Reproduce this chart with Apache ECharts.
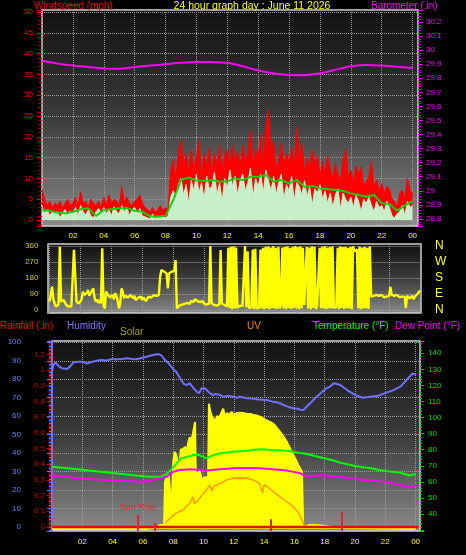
<!DOCTYPE html>
<html><head><meta charset="utf-8">
<script src="https://cdn.jsdelivr.net/npm/echarts@6/dist/echarts.min.js"></script>
<style>html,body{margin:0;padding:0;background:#000;}#c{width:466px;height:555px;}</style>
</head><body><div id="c"></div><script>
// ---------- DATA ----------
const hourLabels = ['02','04','06','08','10','12','14','16','18','20','22','00'];
const windStepH = 1/6;   // 10-minute samples
const windGust = [
 7.5,5,3.5,4.5,3,4,
 3.5,4.5,3,4,5,3.5,
 4,5.5,3.5,6.8,4,4.5,
 3,5,4,3.5,4.5,3,
 5.5,3.5,6,4,5,4.5,
 3.5,8,4.5,5.5,4,3.5,
 4.5,5,6,4,3,2.5,
 2,3,1.8,2.5,3.5,2.2,
 3,2.5,12,14.5,10,16,
 19,13,16,11,17,12,
 15,19,10,16,13,17.5,
 11,16,13,18,12,15.5,
 17,13,18,14,16.5,12.5,
 18,14,16,21.7,13,17,
 15,20.8,13,22.4,26.4,16,
 19,12,14.5,18.5,13,16,
 14,17.5,12,22.4,14,18.5,
 11,15,12.5,17,13,15.5,
 10.5,14,11,15.5,12,10,
 13.5,11,9.5,14.5,17,10,
 12,9,13,11,12.8,8.5,
 9,10.5,14,8,9.5,7,
 8.8,6.5,8,7.5,5,4.5,
 3,6.5,7.2,5,10,7,
 6.5];
const windSpeed = [
 3.5,1.5,2.5,1,2,1.5,
 2,0.5,1.8,2.5,1,2.2,
 1.5,3,1,3.5,2,1.2,
 2.5,1,0.5,2,2.8,1.5,
 3,1.5,2.5,1,3.2,2,
 1.5,3.5,2,3,1,2.5,
 3,1.5,2.8,1,0.8,0.5,
 0.3,1.5,0.2,1,0.5,1.2,
 0.5,1,5.5,7,5,8.5,
 10,6,8.5,4,9.5,7,
 11,6.5,9,5,10.5,7.5,
 8,11.5,6,9,4.5,10,
 7.5,12,8,10.5,6,9.5,
 11,7,9,12.5,5.5,10,
 8,11,6.5,12,9.5,7,
 10.5,6,9,11,5,8.5,
 7,10.5,4.5,9,8,6,
 9.5,5.5,8,3.5,7.5,6.5,
 8.5,5,7,4,6.5,3,
 6,7.5,2.5,6.5,5,4,
 5.5,3,6,4.5,2,5,
 4,5.5,3.5,2,4.5,3,
 3.5,2,4.5,3,1,0.5,
 1.5,2,3.5,1,4.5,3,
 3.5];
const windAvgStepH = 0.5;
const windAvg = [
 2.5,2.2, 1.8,1.6, 2.0,2.6, 2.8,1.0, 2.4,2.6, 2.8,2.9, 2.2,2.0, 0.9,0.8,
 1.0,4.8, 9.6,10.2, 9.5,9.4, 9.6,9.2, 9.3,10, 9.6,10.4, 10.4,10.8, 9.2,9.6,
 8.8,9.6, 8.0,8.2, 7.6,7.4, 7.2,7.0, 6.4,6.0, 5.6,6.0, 4.0,3.8, 2.2,3.5, 4.5];
const baroStepH = 1;
const barometer = [29.925,29.905,29.89,29.88,29.87,29.868,29.88,29.89,29.90,29.91,29.916,29.915,
 29.91,29.885,29.855,29.835,29.823,29.822,29.835,29.86,29.885,29.895,29.89,29.882,29.873];

const dirStepH = 1/12;   // 5-minute samples
const windDir = [
 47,84,131,60,37,19,28,30,356,47,40,56,
 50,28,35,19,25,22,20,338,338,47,40,37,
 37,60,103,85,75,95,112,80,94,100,122,70,
 47,60,40,55,37,347,25,9,103,90,80,70,
 75,85,60,94,80,50,9,40,122,100,66,80,
 75,70,60,85,75,66,80,55,66,70,60,75,
 56,70,66,50,60,75,66,70,60,84,75,80,
 84,84,187,225,220,216,210,206,122,206,210,216,
 216,220,281,9,19,25,19,30,28,35,28,40,
 47,35,50,56,45,60,56,50,40,45,37,50,
 37,45,30,28,35,360,37,30,28,35,25,28,
 30,338,37,30,28,35,20,350,10,355,5,358,
 8,352,12,19,25,18,22,15,360,15,330,10,
 20,15,340,5,345,10,18,12,340,8,350,5,
 355,10,358,5,352,12,360,8,350,6,356,10,
 30,352,8,355,5,358,10,350,6,356,12,360,
 8,354,5,358,10,350,28,20,356,8,352,5,
 358,12,355,6,20,25,350,10,356,8,360,5,
 352,10,355,8,358,12,20,15,350,5,358,12,
 354,6,356,10,350,8,355,5,358,330,335,340,
 10,356,5,352,8,355,10,350,6,358,75,70,
 80,70,85,75,80,70,85,78,72,80,75,85,
 80,130,85,75,80,70,85,78,72,80,75,85,
 75,10,80,70,65,75,80,60,75,70,90,95,
 110];
const dirLetters = {0:'N',90:'E',180:'S',270:'W',360:'N'};

const humidity = [[0,84],[0.1,88],[0.25,89],[0.45,87],[0.65,86],[1.0,85.5],[1.2,87],[1.4,89],[1.7,89.5],[2.07,89.5],
 [2.3,88.5],[2.5,89],[2.9,90],[3.28,90.4],[3.6,90.2],[3.9,90.8],[4.27,90.8],[4.6,91],[4.93,91.3],[5.3,91],[5.6,90.8],
 [5.9,91.5],[6.25,92.2],[6.6,93],[7.0,93.7],[7.2,93],[7.46,90.4],[7.7,88.6],[8.0,85.4],[8.2,84.1],[8.45,80.5],[8.7,77.4],
 [8.9,76.9],[9.1,77.8],[9.35,75],[9.55,73.3],[9.7,72.4],[9.88,75.1],[10.1,75],[10.2,74],[10.43,72.4],[10.6,71.5],[10.8,72],
 [11.1,71.5],[11.3,70.5],[11.6,71],[11.97,70.5],[12.2,70],[12.4,70.5],[12.85,69.7],[13.2,69.5],[13.6,69],[14.17,68.8],
 [14.5,68],[14.8,67.5],[15.05,67],[15.3,66],[15.6,65],[15.93,64.3],[16.2,64],[16.4,63.5],[16.6,63.3],[16.8,65.1],[17.1,67.5],
 [17.47,70.5],[17.8,73],[18.1,75],[18.35,76],[18.6,77.8],[19.0,77],[19.5,74],[20.0,71.5],[20.5,70],[21.0,70.5],[21.5,71],
 [22.0,72.5],[22.5,74],[23.0,76],[23.4,79.6],[23.8,83.2],[24,82.3]];
const temperature = [[0,69.4],[0.5,69],[1,68.5],[1.5,68],[2,67.5],[3,66.5],[4,65.5],[5,64.5],[6,63.5],[6.5,63.2],[7.13,63.2],
 [7.5,64.5],[8.0,69],[8.5,74.6],[9.0,75.8],[9.33,76.7],[9.7,76.7],[10.2,74.6],[10.6,76.5],[11.1,77.8],[11.97,78.8],[12.85,79.4],
 [13.73,80.3],[14.6,79.8],[15.5,79.4],[16.2,78.2],[16.8,77.3],[17.7,75.3],[18.5,73.5],[19.0,72],[20,69.9],[21,68.5],[22,66.8],
 [23,65.7],[23.6,64],[24,64.9]];
const dewPoint = [[0,63.8],[1,63],[2,62],[3,61.5],[4,61],[5,60.5],[6,60.1],[6.5,61],[7.57,63.2],[8.0,66.3],[8.45,67.4],[9.1,67.8],
 [10.2,67],[11.1,67.8],[12,68.4],[12.85,68.6],[13.7,68.4],[14.6,67.8],[15.5,67],[16.4,65.3],[16.8,63.2],[17.7,64.3],[18.5,63.5],
 [19,63.2],[20,61.8],[21,61],[22,60],[23,58],[23.6,56.6],[24,58]];
const solar = [[0,0],[6.15,0],[6.2,8],[7.0,10],[7.1,26],[7.4,26],[7.46,303],[7.55,335],[7.7,348],[7.8,239],[7.9,110],[8.0,432],
 [8.1,497],[8.25,464],[8.4,368],[8.5,510],[8.66,518],[8.8,529],[8.9,497],[9.0,561],[9.1,593],[9.12,350],[9.2,574],[9.3,613],
 [9.44,690],[9.5,292],[9.6,368],[9.66,250],[9.7,380],[9.8,355],[9.9,316],[10.0,329],[10.2,335],[10.3,303],[10.36,808],[10.45,755],
 [10.55,729],[10.65,711],[10.8,703],[10.9,729],[11.0,716],[11.15,742],[11.3,776],[11.4,729],[11.55,748],[11.7,735],[11.85,755],
 [12.0,735],[12.2,748],[12.4,750],[12.6,748],[12.85,744],[13.1,742],[13.3,735],[13.5,733],[13.8,722],[14.0,709],[14.17,701],
 [14.4,690],[14.6,679],[14.8,658],[15.05,626],[15.3,593],[15.5,561],[15.7,522],[15.93,475],[16.1,445],[16.26,411],[16.4,387],
 [16.5,368],[16.55,360],[16.58,13],[17.0,26],[17.5,26],[18.0,19],[18.5,13],[18.7,6],[18.75,0],[24,0]];
const uv = [[7.46,0.26],[7.9,0.66],[8.2,0.9],[8.66,1.1],[9.1,1.55],[9.3,1.95],[9.4,1.5],[9.66,1.74],[9.9,2.06],[10.2,2.39],
 [10.4,2.71],[10.55,2.3],[10.65,2.6],[11.1,2.82],[11.5,3.03],[12,3.14],[12.4,3.18],[12.85,3.14],[13.3,3.03],[13.7,2.82],
 [13.9,2.2],[14.0,2.72],[14.2,2.6],[14.6,2.28],[15.05,1.95],[15.5,1.63],[15.93,1.31],[16.3,0.88],[16.6,0.24],[16.7,0]];
const rainfall = [[0,0],[24.2,0]];
const sunEventHours = [5.66, 6.8, 14.43, 19.12];
const sunEventTops = [0.076, 0.025, 0.05, 0.097];
const sunEventNames = ['Sun Rise', '', '', ''];

// ---------- CHART ----------
const FONT = 'Liberation Sans';
const panelBg = {type:'linear',x:0,y:0,x2:0,y2:1,colorStops:[{offset:0,color:'#111111'},{offset:0.5,color:'#3c3c3c'},{offset:1,color:'#8a8a8a'}]};
const dotted = {show:true, lineStyle:{color:'#9c9c9c', type:'dotted', width:1}};
const hourFmt = v => (v >= 2 && v <= 24 && Math.abs(v/2 - Math.round(v/2)) < 1e-6) ? hourLabels[Math.round(v/2)-1] : '';
const pairs = (arr, step) => arr.map((v,i) => [i*step, v]);

const chart = echarts.init(document.getElementById('c'), null, {renderer:'canvas'});
chart.setOption({
  backgroundColor:'#000',
  animation:false,
  textStyle:{fontFamily:FONT},
  grid:[
    {left:42, top:10, width:376, height:216, show:true, backgroundColor:panelBg, borderColor:'#d0d0d0', borderWidth:1.5},
    {left:48, top:244, width:373, height:69, show:true, backgroundColor:panelBg, borderColor:'#d0d0d0', borderWidth:1.5},
    {left:49.5, top:246, width:370.5, height:64},
    {left:52, top:341, width:368, height:190, show:true, backgroundColor:panelBg, borderColor:'#d0d0d0', borderWidth:1.5}
  ],
  xAxis:[
    {gridIndex:0, type:'value', min:0, max:24.35, interval:2, axisLine:{show:false}, axisTick:{show:false},
     axisLabel:{color:'#ffff00', fontSize:8, margin:6, showMinLabel:false, showMaxLabel:false, formatter:hourFmt}, splitLine:dotted},
    {gridIndex:1, type:'value', min:-0.097, max:24.06, splitNumber:12, axisLine:{show:false}, axisTick:{show:false},
     axisLabel:{show:false}, splitLine:dotted},
    {gridIndex:2, type:'value', min:0, max:24, show:false},
    {gridIndex:3, type:'value', min:0, max:24.29, interval:2, axisLine:{show:false}, axisTick:{show:false},
     axisLabel:{color:'#ffff00', fontSize:8, margin:7, showMinLabel:false, showMaxLabel:false, formatter:hourFmt}, splitLine:dotted}
  ],
  yAxis:[
    {gridIndex:0, type:'value', position:'left', min:-1.44, max:50.48, splitNumber:10,
     axisLine:{show:false}, axisTick:{show:true, length:5, lineStyle:{color:'#ee0000'}},
     minorTick:{show:true, splitNumber:5, length:3, lineStyle:{color:'#cc0000'}},
     axisLabel:{color:'#ff0000', fontSize:8, margin:9, showMinLabel:false, showMaxLabel:false}, splitLine:dotted},
    {gridIndex:0, type:'value', position:'right', min:28.75, max:30.285, splitNumber:15,
     axisLine:{show:false}, axisTick:{show:true, length:5, lineStyle:{color:'#ee00ee'}},
     minorTick:{show:true, splitNumber:5, length:3, lineStyle:{color:'#cc00cc'}},
     axisLabel:{color:'#ff00ff', fontSize:8, margin:8, showMinLabel:false, showMaxLabel:false}, splitLine:{show:false}},
    {gridIndex:1, type:'value', min:0, max:1, show:false},
    {gridIndex:2, type:'value', position:'left', min:0, max:360, interval:90, axisLine:{show:false}, axisTick:{show:false},
     axisLabel:{color:'#c8c832', fontSize:8, margin:11}, splitLine:dotted},
    {gridIndex:2, type:'value', position:'right', min:0, max:360, interval:90, axisLine:{show:false}, axisTick:{show:false},
     axisLabel:{color:'#ffff00', fontSize:12, margin:15, formatter:v => dirLetters[v] || ''}, splitLine:{show:false}},
    {gridIndex:3, type:'value', position:'left', offset:22, min:-2.17, max:100.7, splitNumber:10,
     axisLine:{show:true, lineStyle:{color:'#7070ff', width:2}}, axisTick:{show:true, length:5, lineStyle:{color:'#7070ff'}},
     minorTick:{show:true, splitNumber:5, length:3, lineStyle:{color:'#7070ff'}},
     axisLabel:{color:'#7878ff', fontSize:8, margin:9, showMinLabel:false, showMaxLabel:false}, splitLine:dotted},
    {gridIndex:3, type:'value', position:'left', offset:2, min:-0.0255, max:1.1847, splitNumber:12,
     axisLine:{show:true, lineStyle:{color:'#e00000', width:1.5, type:'dotted'}}, axisTick:{show:true, length:3, lineStyle:{color:'#e00000'}},
     axisLabel:{color:'#d00000', fontSize:8, margin:5, showMinLabel:false, showMaxLabel:false}, splitLine:{show:false}},
    {gridIndex:3, type:'value', position:'right', min:29.42, max:147.65, splitNumber:12,
     axisLine:{show:false}, axisTick:{show:true, length:4, lineStyle:{color:'#00cc00'}},
     minorTick:{show:true, splitNumber:5, length:2, lineStyle:{color:'#00aa00'}},
     axisLabel:{color:'#00e000', fontSize:8, margin:8, showMinLabel:false, showMaxLabel:false, formatter:v => v >= 40 ? String(v) : ''},
     splitLine:{show:false}},
    {gridIndex:3, type:'value', min:-12.9, max:1212.6, show:false},
    {gridIndex:3, type:'value', min:-0.258, max:12.0, show:false}
  ],
  series:[
    {type:'line', xAxisIndex:0, yAxisIndex:0, data:pairs(windGust, windStepH), symbol:'none',
     lineStyle:{color:'#ff0000', width:1}, areaStyle:{color:'#ff0000', opacity:1}},
    {type:'line', xAxisIndex:0, yAxisIndex:0, data:pairs(windSpeed, windStepH), symbol:'none',
     lineStyle:{color:'#c8f0c8', width:1}, areaStyle:{color:'#c8f0c8', opacity:1}},
    {type:'line', xAxisIndex:0, yAxisIndex:0, data:pairs(windAvg, windAvgStepH), symbol:'none',
     lineStyle:{color:'#10d010', width:2}},
    {type:'line', xAxisIndex:0, yAxisIndex:1, data:pairs(barometer, baroStepH), symbol:'none', smooth:0.3,
     lineStyle:{color:'#ff00ff', width:2}},
    {type:'line', xAxisIndex:2, yAxisIndex:3, data:pairs(windDir, dirStepH), symbol:'none',
     lineStyle:{color:'#ffff00', width:2.4}},
    {type:'line', xAxisIndex:3, yAxisIndex:8, data:solar, symbol:'none',
     lineStyle:{color:'#ffff00', width:2}, areaStyle:{color:'#ffff00', opacity:1}},
    {type:'line', xAxisIndex:3, yAxisIndex:9, data:uv, symbol:'none',
     lineStyle:{color:'#ff9900', width:1.5}},
    {type:'line', xAxisIndex:3, yAxisIndex:5, data:humidity, symbol:'none',
     lineStyle:{color:'#7070ff', width:2}},
    {type:'line', xAxisIndex:3, yAxisIndex:7, data:temperature, symbol:'none',
     lineStyle:{color:'#00ff00', width:2}},
    {type:'line', xAxisIndex:3, yAxisIndex:7, data:dewPoint, symbol:'none',
     lineStyle:{color:'#ff00ff', width:2}},
    {type:'line', xAxisIndex:3, yAxisIndex:6, data:rainfall, symbol:'none',
     lineStyle:{color:'#ff0000', width:2.5},
     markLine:{silent:true, symbol:['none','none'], animation:false,
       lineStyle:{color:'#d82828', width:2, type:'solid'}, label:{show:false},
       data: sunEventHours.map((h,i) => [
         {coord:[h,-0.025], label:{show: !!sunEventNames[i], formatter: sunEventNames[i], position:'end', color:'#e03030', fontSize:9, distance:3}},
         {coord:[h, sunEventTops[i]]}
       ])}}
  ],
  graphic:[
    {type:'text', x:34, y:6, style:{text:'Windspeed (mph)', fill:'#ff0000', font:'10px "Liberation Sans"', verticalAlign:'middle'}},
    {type:'text', x:252, y:6, style:{text:'24 hour graph day : June 11 2026', fill:'#ffff00', font:'10.5px "Liberation Sans"', align:'center', verticalAlign:'middle'}},
    {type:'text', x:371, y:6, style:{text:'Barometer (.in)', fill:'#ff00ff', font:'10px "Liberation Sans"', verticalAlign:'middle'}},
    {type:'text', x:0, y:326.5, style:{text:'Rainfall (.in)', fill:'#ff0000', font:'10px "Liberation Sans"', verticalAlign:'middle'}},
    {type:'text', x:67, y:326.5, style:{text:'Humidity', fill:'#7878ff', font:'10px "Liberation Sans"', verticalAlign:'middle'}},
    {type:'text', x:120, y:332, style:{text:'Solar', fill:'#a0a020', font:'10px "Liberation Sans"', verticalAlign:'middle'}},
    {type:'text', x:247, y:326.5, style:{text:'UV', fill:'#ff8000', font:'10px "Liberation Sans"', verticalAlign:'middle'}},
    {type:'text', x:313, y:326.5, style:{text:'Temperature (°F)', fill:'#00ff00', font:'10px "Liberation Sans"', verticalAlign:'middle'}},
    {type:'text', x:395, y:326.5, style:{text:'Dew Point (°F)', fill:'#ff00ff', font:'10px "Liberation Sans"', verticalAlign:'middle'}}
  ]
});
</script></body></html>
